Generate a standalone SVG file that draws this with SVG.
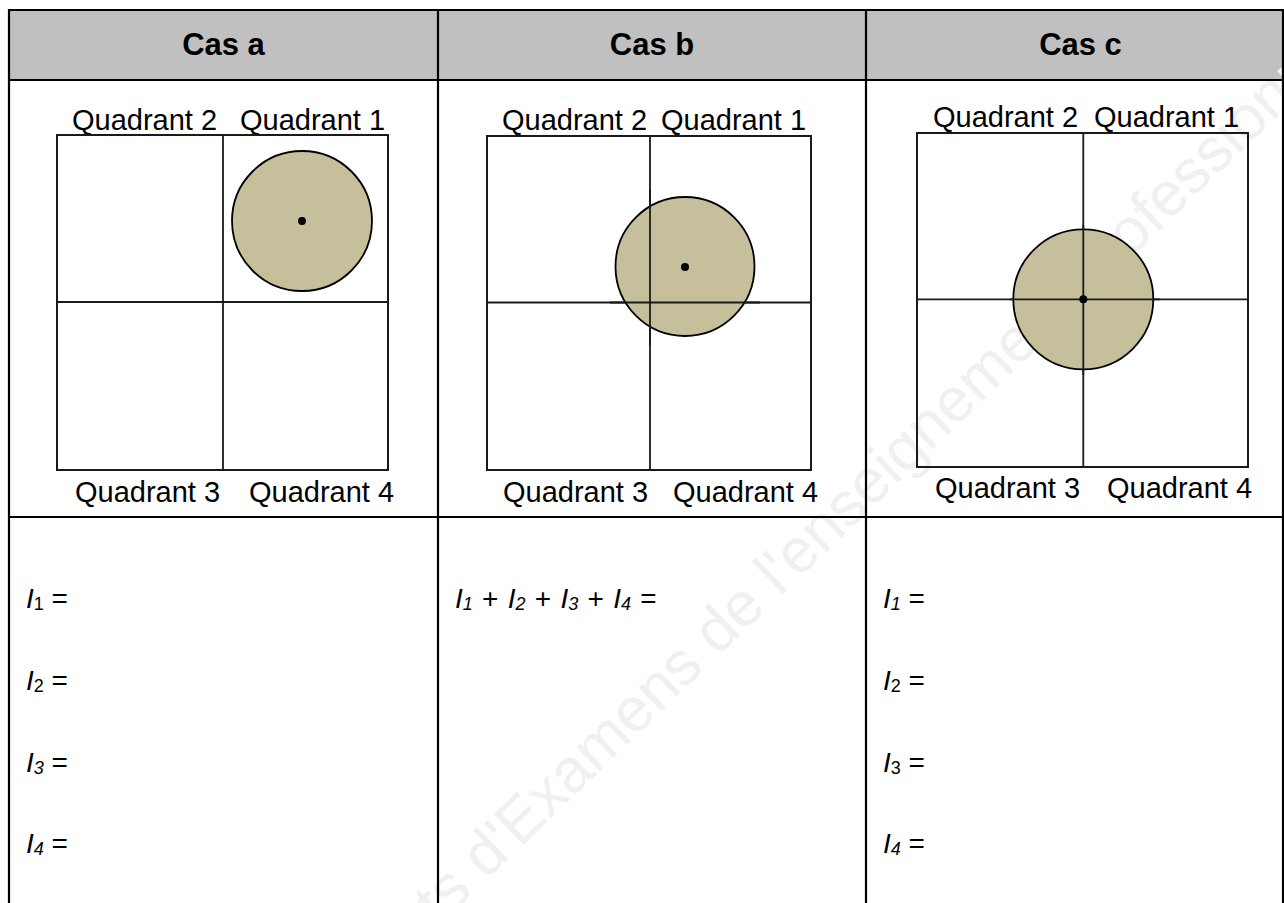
<svg xmlns="http://www.w3.org/2000/svg" width="1284" height="903" viewBox="0 0 1284 903">
  <style>
    .hdr { font-family: "Liberation Sans", Arial, sans-serif; font-weight: bold; font-size: 31px; fill: #000; text-anchor: middle; }
    .lbl { font-family: "Liberation Sans", Arial, sans-serif; font-size: 29px; fill: #000; }
    .eq { font-family: "Liberation Sans", Arial, sans-serif; font-size: 28px; fill: #000; }
    .it { font-style: italic; }
    .sub { font-size: 18px; }
    .box { fill: none; stroke: #1a1a1a; stroke-width: 2; }
    .axis { stroke: #1a1a1a; stroke-width: 1.8; }
    .disc { fill: #c5bf9b; stroke: #000; stroke-width: 1.8; }
    .dot { fill: #000; }
    .grid { stroke: #000; stroke-width: 2.2; fill: none; }
    .wm { font-family: "Liberation Sans", Arial, sans-serif; font-size: 62px; fill: #f0f0f0; }
  </style>

  <rect x="0" y="0" width="1284" height="903" fill="#ffffff"/>
  <rect id="header-fill" x="9" y="10" width="1274" height="70" fill="#c0c0c0"/>

  <text id="watermark" class="wm" transform="translate(350,1012) rotate(-44)" x="0" y="0">Sujets d'Examens de l'enseignement professionnel</text>

  <g id="table-lines">
    <line class="grid" x1="9" y1="10" x2="1283" y2="10"/>
    <line class="grid" x1="9" y1="80" x2="1283" y2="80"/>
    <line class="grid" x1="9" y1="517" x2="1283" y2="517"/>
    <line class="grid" x1="9" y1="9" x2="9" y2="903"/>
    <line class="grid" x1="438" y1="9" x2="438" y2="903"/>
    <line class="grid" x1="866" y1="9" x2="866" y2="903"/>
    <line class="grid" x1="1283" y1="9" x2="1283" y2="903"/>
  </g>

  <g id="headers">
    <text class="hdr" x="223.5" y="55">Cas a</text>
    <text class="hdr" x="652" y="55">Cas b</text>
    <text class="hdr" x="1080.5" y="55">Cas c</text>
  </g>

  <g id="diagram-a">
    <text class="lbl" x="72" y="130">Quadrant 2</text>
    <text class="lbl" x="240" y="130">Quadrant 1</text>
    <rect class="box" x="57" y="135" width="331" height="335"/>
    <line class="axis" x1="223" y1="135" x2="223" y2="470"/>
    <line class="axis" x1="57" y1="302" x2="388" y2="302"/>
    <circle class="disc" cx="302" cy="221" r="70"/>
    <circle class="dot" cx="302" cy="221" r="4"/>
    <text class="lbl" x="75" y="502">Quadrant 3</text>
    <text class="lbl" x="249" y="502">Quadrant 4</text>
  </g>

  <g id="diagram-b">
    <text class="lbl" x="502" y="130">Quadrant 2</text>
    <text class="lbl" x="661" y="130">Quadrant 1</text>
    <rect class="box" x="487" y="136" width="324" height="334"/>
    <line class="axis" x1="650" y1="136" x2="650" y2="470"/>
    <line class="axis" x1="487" y1="302.5" x2="811" y2="302.5"/>
    <circle class="disc" cx="685" cy="266.5" r="69.5"/>
    <line class="axis" x1="650" y1="190" x2="650" y2="345"/>
    <line class="axis" x1="610" y1="302.5" x2="760" y2="302.5"/>
    <circle class="dot" cx="685" cy="267" r="4"/>
    <text class="lbl" x="503" y="502">Quadrant 3</text>
    <text class="lbl" x="673" y="502">Quadrant 4</text>
  </g>

  <g id="diagram-c">
    <text class="lbl" x="933" y="127">Quadrant 2</text>
    <text class="lbl" x="1094" y="127">Quadrant 1</text>
    <rect class="box" x="917" y="133" width="331" height="334"/>
    <line class="axis" x1="1083.3" y1="133" x2="1083.3" y2="467"/>
    <line class="axis" x1="917" y1="299.3" x2="1248" y2="299.3"/>
    <circle class="disc" cx="1083.3" cy="299.3" r="70"/>
    <line class="axis" x1="1083.3" y1="225" x2="1083.3" y2="375"/>
    <line class="axis" x1="1010" y1="299.3" x2="1160" y2="299.3"/>
    <circle class="dot" cx="1083.3" cy="299.3" r="4"/>
    <text class="lbl" x="935" y="498">Quadrant 3</text>
    <text class="lbl" x="1107" y="498">Quadrant 4</text>
  </g>

  <g id="answers-a">
    <text class="eq" x="26" y="608"><tspan class="it">I</tspan><tspan class="sub" dy="2">1</tspan><tspan dy="-2"> =</tspan></text>
    <text class="eq" x="26" y="690"><tspan class="it">I</tspan><tspan class="sub" dy="2">2</tspan><tspan dy="-2"> =</tspan></text>
    <text class="eq" x="26" y="772"><tspan class="it">I</tspan><tspan class="sub it" dy="2">3</tspan><tspan dy="-2"> =</tspan></text>
    <text class="eq" x="26" y="853"><tspan class="it">I</tspan><tspan class="sub it" dy="2">4</tspan><tspan dy="-2"> =</tspan></text>
  </g>

  <g id="answers-b">
    <text class="eq" x="455" y="608" word-spacing="1.5"><tspan class="it">I</tspan><tspan class="sub it" dy="2">1</tspan><tspan dy="-2"> + </tspan><tspan class="it">I</tspan><tspan class="sub it" dy="2">2</tspan><tspan dy="-2"> + </tspan><tspan class="it">I</tspan><tspan class="sub it" dy="2">3</tspan><tspan dy="-2"> + </tspan><tspan class="it">I</tspan><tspan class="sub it" dy="2">4</tspan><tspan dy="-2"> =</tspan></text>
  </g>

  <g id="answers-c">
    <text class="eq" x="883" y="608"><tspan class="it">I</tspan><tspan class="sub it" dy="2">1</tspan><tspan dy="-2"> =</tspan></text>
    <text class="eq" x="883" y="690"><tspan class="it">I</tspan><tspan class="sub" dy="2">2</tspan><tspan dy="-2"> =</tspan></text>
    <text class="eq" x="883" y="772"><tspan class="it">I</tspan><tspan class="sub" dy="2">3</tspan><tspan dy="-2"> =</tspan></text>
    <text class="eq" x="883" y="853"><tspan class="it">I</tspan><tspan class="sub it" dy="2">4</tspan><tspan dy="-2"> =</tspan></text>
  </g>
</svg>
